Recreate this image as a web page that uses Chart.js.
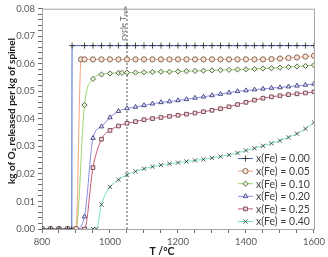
<!DOCTYPE html>
<html>
<head>
<meta charset="utf-8">
<script src="https://cdn.jsdelivr.net/npm/chart.js@4/dist/chart.umd.min.js"></script>
<style>
  html, body { margin: 0; padding: 0; background: #fff; }
  #wrap { width: 328px; height: 257px; position: relative; }
</style>
</head>
<body>
<div id="wrap"><canvas id="chart"></canvas></div>
<script>
// temperature grid (°C), 25 degree steps
const temps = [800, 825, 850, 875, 900, 925, 950, 975, 1000, 1025, 1050, 1075, 1100, 1125, 1150, 1175, 1200,
  1225, 1250, 1275, 1300, 1325, 1350, 1375, 1400, 1425, 1450, 1475, 1500, 1525, 1550, 1575, 1600];

// kg O2 released per kg spinel, one value per grid temperature (null = no point)
const fe000 = [0, 0, 0, 0, null, 0.0666, 0.0666, 0.0666, 0.0666, 0.0666, 0.0666, 0.0666, 0.0666, 0.0666, 0.0666, 0.0666, 0.0666,
  0.0666, 0.0666, 0.0666, 0.0666, 0.0666, 0.0666, 0.0666, 0.0666, 0.0666, 0.0666, 0.0666, 0.0666, 0.0666, 0.0666, 0.0666, 0.0666];
const fe005 = [0, 0, 0, 0, 0, 0.0616, 0.0616, 0.0616, 0.0616, 0.0616, 0.0616, 0.0616, 0.0616, 0.0616, 0.0616, 0.0616, 0.0616,
  0.0616, 0.0616, 0.0616, 0.0616, 0.0616, 0.0616, 0.0616, 0.0616, 0.0616, 0.0616, 0.0617, 0.0619, 0.0621, 0.0623, 0.0626, 0.0629];
const fe010 = [0, 0, 0, 0, 0, 0.0450, 0.0545, 0.0561, 0.0565, 0.0567, 0.0568, 0.0568, 0.0569, 0.0570, 0.0571, 0.0571, 0.0572,
  0.0573, 0.0574, 0.0575, 0.0576, 0.0577, 0.0578, 0.0579, 0.0580, 0.0581, 0.0583, 0.0584, 0.0586, 0.0588, 0.0590, 0.0592, 0.0595];
const fe020 = [0, 0, 0, 0, 0, 0.0045, 0.0330, 0.0372, 0.0405, 0.0428, 0.0438, 0.0443, 0.0449, 0.0455, 0.0460, 0.0463, 0.0467,
  0.0471, 0.0476, 0.0480, 0.0485, 0.0490, 0.0495, 0.0500, 0.0503, 0.0506, 0.0509, 0.0512, 0.0514, 0.0517, 0.0520, 0.0523, 0.0527];
const fe025 = [0, 0, 0, 0, 0, 0, 0.0223, 0.0326, 0.0358, 0.0374, 0.0384, 0.0390, 0.0397, 0.0401, 0.0405, 0.0409, 0.0413,
  0.0417, 0.0421, 0.0426, 0.0431, 0.0437, 0.0444, 0.0452, 0.0460, 0.0468, 0.0475, 0.0480, 0.0484, 0.0488, 0.0491, 0.0494, 0.0498];
const fe040 = [0, 0, 0, 0, 0, 0, 0, 0.0089, 0.0153, 0.0179, 0.0197, 0.0209, 0.0219, 0.0226, 0.0232, 0.0237, 0.0241,
  0.0245, 0.0249, 0.0253, 0.0258, 0.0263, 0.0269, 0.0276, 0.0285, 0.0293, 0.0302, 0.0311, 0.0321, 0.0333, 0.0346, 0.0364, 0.0387];

// extra points off the grid (onset of release) as [T, value]
const extra000 = [[887.5, 0], [888.5, 0.0666]];
const extra005 = [[915, 0.0616]];
const extra010 = [[1035, 0.0567]];
const extra040 = [[960, 0]];

const seriesLabels = ["x(Fe) = 0.00", "x(Fe) = 0.05", "x(Fe) = 0.10", "x(Fe) = 0.20", "x(Fe) = 0.25", "x(Fe) = 0.40"];
const cycleTmax = 1050;

function makePoints(vals, extra) {
  let pts = [];
  temps.forEach((t, i) => { if (vals[i] !== null) pts.push({ x: t, y: vals[i] }); });
  (extra || []).forEach(p => pts.push({ x: p[0], y: p[1] }));
  pts.sort((a, b) => a.x - b.x);
  return pts;
}

function series(label, vals, extra, color, style, fill, edge) {
  return {
    label: label,
    data: makePoints(vals, extra),
    borderColor: color,
    borderWidth: 1,
    pointStyle: style,
    pointRadius: style === "cross" || style === "crossRot" ? 3 : 2.6,
    pointBorderWidth: 0.8,
    pointBorderColor: edge,
    pointBackgroundColor: fill,
    cubicInterpolationMode: "monotone",
    inLegend: true
  };
}

const datasets = [
  series(seriesLabels[0], fe000, extra000, "#4a62c8", "cross", "#222", "#222"),
  series(seriesLabels[1], fe005, extra005, "#f4a27a", "circle", "#fbe3d4", "#6a4a3a"),
  series(seriesLabels[2], fe010, extra010, "#9ad468", "rectRot", "#e2f3d4", "#3a4a2a"),
  series(seriesLabels[3], fe020, null, "#8a8ae6", "triangle", "#e4e4fa", "#2a2a6a"),
  series(seriesLabels[4], fe025, null, "#c45a72", "rect", "#f4dde2", "#5a2a32"),
  series(seriesLabels[5], fe040, extra040, "#74e2ca", "crossRot", "#333", "#333"),
  {
    label: "cycle Tmax",
    data: [{ x: cycleTmax, y: 0 }, { x: cycleTmax, y: 0.08 }],
    borderColor: "#555",
    borderWidth: 1,
    borderDash: [2, 2],
    pointRadius: 0,
    inLegend: false
  }
];

// light frame around the plot area + titles + annotation
const framePlugin = {
  id: "frame",
  beforeDatasetsDraw(chart) {
    const { ctx, chartArea: a } = chart;
    ctx.save();
    ctx.strokeStyle = "#a6a6a6";
    ctx.lineWidth = 1;
    ctx.strokeRect(a.left + 0.5, a.top + 0.5, a.right - a.left, a.bottom - a.top);
    ctx.restore();
  },
  afterDraw(chart) {
    const { ctx, chartArea: a, scales } = chart;
    ctx.save();
    // axis titles
    ctx.fillStyle = "#1a1a1a";
    ctx.font = "bold 10.5px Lato, 'DejaVu Sans'";
    ctx.textAlign = "center";
    ctx.textBaseline = "middle";
    ctx.fillText("T /°C", 162, 252);
    ctx.font = "bold 10px Lato, 'DejaVu Sans'";
    ctx.translate(12, 111);
    ctx.rotate(-Math.PI / 2);
    ctx.fillText("kg of O\u2082 released per kg of spinel", 0, 0);
    ctx.restore();

    // cycle Tmax label
    const xl = scales.x.getPixelForValue(cycleTmax);
    ctx.save();
    ctx.fillStyle = "#595959";
    ctx.translate(xl - 4, a.top + 32);
    ctx.rotate(-Math.PI / 2);
    ctx.textAlign = "left";
    ctx.textBaseline = "middle";
    ctx.font = "8px Lato";
    ctx.fillText("cycle T", 0, 0);
    const w = ctx.measureText("cycle T").width;
    ctx.font = "5.5px Lato";
    ctx.fillText("max", w, 2.5);
    ctx.restore();

    // legend inside the plot, lower right
    const x0 = a.right - 76, y0 = a.bottom - 71, step = 12.6;
    ctx.save();
    ctx.font = "10.5px Lato";
    ctx.textAlign = "left";
    ctx.textBaseline = "middle";
    let row = 0;
    chart.data.datasets.forEach(ds => {
      if (!ds.inLegend) return;
      const y = y0 + row * step;
      ctx.strokeStyle = ds.borderColor;
      ctx.lineWidth = 1;
      ctx.beginPath();
      ctx.moveTo(x0, y + 0.5);
      ctx.lineTo(x0 + 15, y + 0.5);
      ctx.stroke();
      ctx.fillStyle = ds.pointBackgroundColor;
      ctx.strokeStyle = ds.pointBorderColor;
      ctx.lineWidth = ds.pointBorderWidth;
      Chart.helpers.drawPoint(ctx, { pointStyle: ds.pointStyle, radius: ds.pointRadius, rotation: 0, borderWidth: ds.pointBorderWidth }, x0 + 7.5, y + 0.5);
      ctx.fillStyle = "#404040";
      ctx.fillText(ds.label, x0 + 18, y + 1);
      row++;
    });
    ctx.restore();
  }
};

new Chart(document.getElementById("chart"), {
  type: "line",
  data: { datasets: datasets },
  options: {
    responsive: true,
    maintainAspectRatio: false,
    animation: false,
    layout: { padding: { top: 7, right: 14, left: 0, bottom: 0 } },
    plugins: { legend: { display: false }, tooltip: { enabled: false } },
    scales: {
      x: {
        type: "linear",
        min: 800,
        max: 1600,
        afterFit: s => { s.height = 28; },
        border: { color: "#6e6e6e", width: 1 },
        grid: { drawOnChartArea: false, drawTicks: true, tickLength: 4, color: "#6e6e6e" },
        ticks: {
          stepSize: 50,
          autoSkip: false,
          maxRotation: 0,
          padding: 3,
          color: "#595959",
          font: { family: "Lato", size: 9.5 },
          callback: v => (v % 200 === 0 ? String(v) : "")
        }
      },
      y: {
        min: 0,
        max: 0.08,
        afterFit: s => { s.width = 42; },
        border: { color: "#6e6e6e", width: 1 },
        grid: { drawOnChartArea: false, drawTicks: true, tickLength: 4, color: "#6e6e6e" },
        ticks: {
          stepSize: 0.002,
          autoSkip: false,
          padding: 3,
          color: "#595959",
          font: { family: "Lato", size: 9.5 },
          callback: v => {
            const h = v * 100;
            return Math.abs(h - Math.round(h)) < 1e-6 ? v.toFixed(2) : "";
          }
        }
      }
    }
  },
  plugins: [framePlugin]
});
</script>
</body>
</html>
